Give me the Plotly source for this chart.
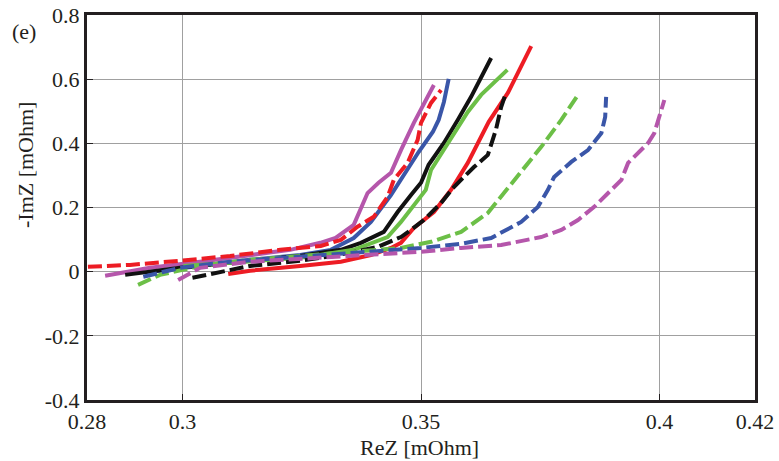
import plotly.graph_objects as go

# ReZ / -ImZ, mOhm
purple_x = [0.2838, 0.2932, 0.3037, 0.3142, 0.3226, 0.3289, 0.3321, 0.3359, 0.3388, 0.3411, 0.3437, 0.3458, 0.3485, 0.3527]
purple_y = [-0.013, 0.012, 0.031, 0.052, 0.068, 0.090, 0.105, 0.146, 0.245, 0.277, 0.308, 0.379, 0.464, 0.582]

blue_x = [0.2932, 0.3037, 0.3142, 0.3247, 0.3311, 0.3359, 0.3395, 0.3437, 0.3464, 0.3495, 0.3525, 0.3537, 0.3548, 0.3558]
blue_y = [-0.001, 0.018, 0.037, 0.052, 0.068, 0.105, 0.155, 0.239, 0.302, 0.373, 0.436, 0.473, 0.529, 0.601]

black_x = [0.2880, 0.2995, 0.3142, 0.3247, 0.3332, 0.3374, 0.3422, 0.3451, 0.3479, 0.3500, 0.3516, 0.3548, 0.3577, 0.3605, 0.3647]
black_y = [-0.010, 0.012, 0.034, 0.049, 0.068, 0.090, 0.124, 0.186, 0.239, 0.277, 0.333, 0.401, 0.473, 0.545, 0.666]

green_x = [0.3002, 0.3142, 0.3247, 0.3359, 0.3430, 0.3458, 0.3485, 0.3510, 0.3521, 0.3556, 0.3598, 0.3626, 0.3681]
green_y = [0.018, 0.031, 0.043, 0.068, 0.108, 0.155, 0.208, 0.255, 0.317, 0.401, 0.498, 0.551, 0.629]

red_x = [0.3096, 0.3142, 0.3247, 0.3332, 0.3395, 0.3437, 0.3458, 0.3485, 0.3527, 0.3563, 0.3598, 0.3642, 0.3682, 0.3731]
red_y = [-0.007, 0.003, 0.018, 0.031, 0.052, 0.074, 0.090, 0.136, 0.186, 0.255, 0.339, 0.467, 0.557, 0.703]

red_d_x = [0.2802, 0.2890, 0.2995, 0.3100, 0.3205, 0.3290, 0.3332, 0.3367, 0.3401, 0.3430, 0.3443, 0.3472, 0.3493, 0.3500, 0.3521, 0.3542]
red_d_y = [0.015, 0.021, 0.034, 0.049, 0.068, 0.080, 0.099, 0.140, 0.171, 0.233, 0.286, 0.339, 0.411, 0.464, 0.526, 0.566]

black_d_x = [0.3021, 0.3142, 0.3247, 0.3317, 0.3409, 0.3458, 0.3479, 0.3506, 0.3542, 0.3569, 0.3611, 0.3640, 0.3657, 0.3668, 0.3678]
black_d_y = [-0.019, 0.018, 0.034, 0.049, 0.077, 0.108, 0.130, 0.161, 0.214, 0.264, 0.326, 0.364, 0.442, 0.513, 0.557]

green_d_x = [0.2907, 0.2953, 0.3037, 0.3142, 0.3247, 0.3353, 0.3458, 0.3521, 0.3584, 0.3640, 0.3695, 0.3752, 0.3794, 0.3829]
green_d_y = [-0.041, -0.010, 0.018, 0.037, 0.049, 0.062, 0.074, 0.093, 0.124, 0.183, 0.286, 0.389, 0.473, 0.551]

blue_d_x = [0.2918, 0.2995, 0.3100, 0.3247, 0.3416, 0.3500, 0.3584, 0.3647, 0.3710, 0.3745, 0.3766, 0.3779, 0.3815, 0.3850, 0.3878, 0.3886, 0.3888]
blue_d_y = [-0.016, 0.012, 0.031, 0.046, 0.065, 0.074, 0.087, 0.105, 0.155, 0.202, 0.255, 0.295, 0.342, 0.379, 0.432, 0.482, 0.545]

purple_d_x = [0.2991, 0.3037, 0.3142, 0.3247, 0.3416, 0.3500, 0.3584, 0.3668, 0.3752, 0.3794, 0.3829, 0.3863, 0.3899, 0.3920, 0.3934, 0.3955, 0.3976, 0.3989, 0.3997, 0.4010]
purple_d_y = [-0.026, 0.012, 0.031, 0.040, 0.052, 0.062, 0.074, 0.083, 0.108, 0.130, 0.161, 0.202, 0.255, 0.286, 0.339, 0.370, 0.401, 0.432, 0.473, 0.535]

x_ticks = [0.28, 0.3, 0.35, 0.4, 0.42]
x_tick_text = ["0.28", "0.3", "0.35", "0.4", "0.42"]
y_ticks = [-0.4, -0.2, 0, 0.2, 0.4, 0.6, 0.8]
y_tick_text = ["-0.4", "-0.2", "0", "0.2", "0.4", "0.6", "0.8"]

RED = "#ed1c24"
BLACK = "#111111"
GREEN = "#6cbf47"
BLUE = "#3a56a8"
PURPLE = "#b556ab"

series = [
    (purple_x, purple_y, PURPLE, "solid"),
    (blue_x, blue_y, BLUE, "solid"),
    (black_x, black_y, BLACK, "solid"),
    (green_x, green_y, GREEN, "solid"),
    (red_x, red_y, RED, "solid"),
    (red_d_x, red_d_y, RED, "14px,5px"),
    (black_d_x, black_d_y, BLACK, "14px,5px"),
    (green_d_x, green_d_y, GREEN, "14px,5px"),
    (blue_d_x, blue_d_y, BLUE, "14px,5px"),
    (purple_d_x, purple_d_y, PURPLE, "14px,5px"),
]

fig = go.Figure()
for xs, ys, col, dash in series:
    fig.add_trace(go.Scatter(x=xs, y=ys, mode="lines",
                             line=dict(color=col, width=4, dash=dash),
                             showlegend=False))

font = dict(family="Liberation Serif", size=22, color="#231f20")

fig.update_xaxes(range=[0.28, 0.42], tickvals=x_ticks, ticktext=x_tick_text,
                 showgrid=True, gridcolor="#a0a0a0", gridwidth=1,
                 showline=True, linecolor="#231f20", linewidth=3, mirror=True,
                 ticks="inside", ticklen=6, tickcolor="#231f20",
                 zeroline=False, tickfont=font, automargin=False,
                 ticklabeloverflow="allow")
fig.update_yaxes(range=[-0.4, 0.8], tickvals=y_ticks, ticktext=y_tick_text,
                 showgrid=True, gridcolor="#a0a0a0", gridwidth=1,
                 showline=True, linecolor="#231f20", linewidth=3, mirror=True,
                 ticks="inside", ticklen=6, tickcolor="#231f20",
                 zeroline=False, tickfont=font, automargin=False,
                 ticklabeloverflow="allow")

# axis titles and panel label placed as annotations
fig.add_annotation(text="ReZ [mOhm]", x=0.4985, y=-0.123, xref="paper", yref="paper",
                   xanchor="center", yanchor="middle", showarrow=False, font=font)
fig.add_annotation(text="-ImZ [mOhm]", x=-0.093, y=0.61, xref="paper", yref="paper",
                   xanchor="center", yanchor="middle", textangle=-90, showarrow=False, font=font)
fig.add_annotation(text="(e)", x=-0.094, y=0.956, xref="paper", yref="paper",
                   xanchor="center", yanchor="middle", showarrow=False, font=font)

fig.update_layout(width=779, height=461, plot_bgcolor="white", paper_bgcolor="white",
                  margin=dict(l=87, r=24, t=15, b=61), font=font)

# drop the default 8px body margin so the figure sits at the page corner
fig.write_html("out.html", config={"displayModeBar": False},
               post_script="document.body.style.margin='0';")
